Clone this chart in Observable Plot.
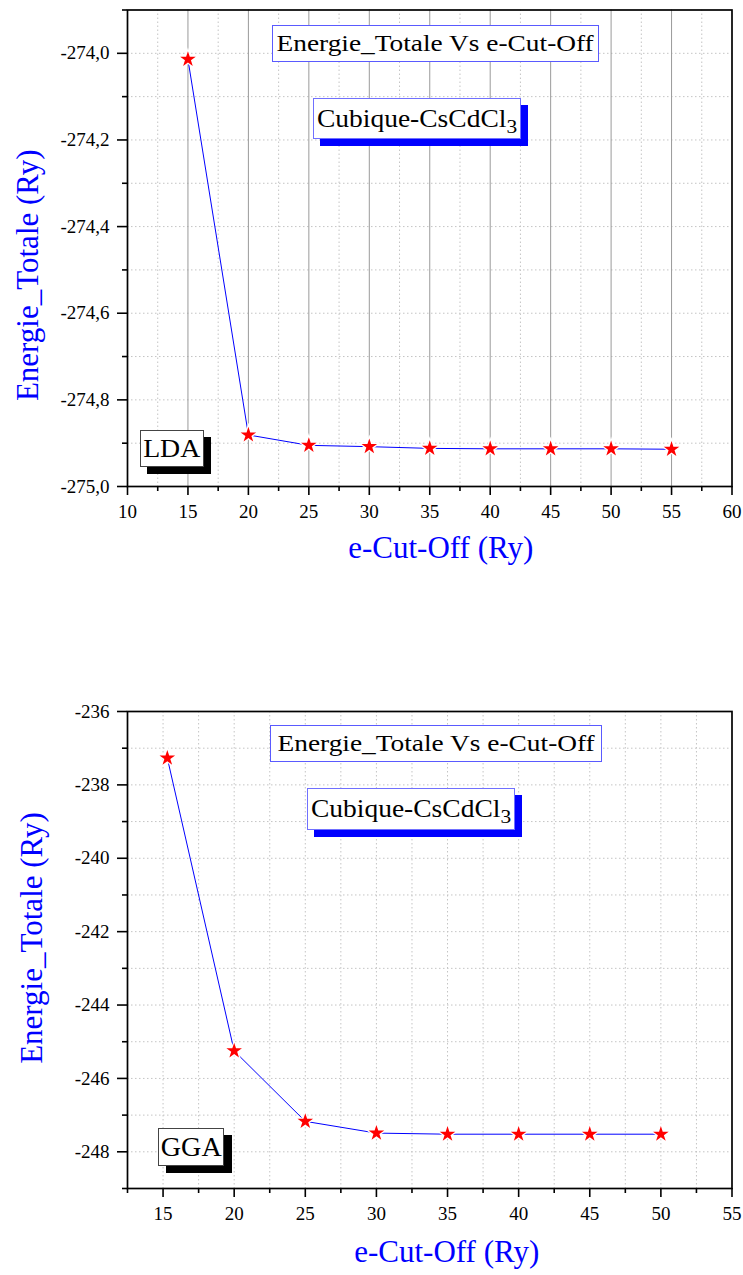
<!DOCTYPE html>
<html><head><meta charset="utf-8">
<script src="https://cdn.jsdelivr.net/npm/d3@7"></script>
<script src="https://cdn.jsdelivr.net/npm/@observablehq/plot@0.6"></script>
<style>
body{margin:0;background:#fff;}
#wrap{position:relative;width:743px;height:1275px;font-family:"Liberation Serif",serif;overflow:hidden;}
#wrap svg{display:block;}
.box{position:absolute;background:#fff;box-sizing:border-box;display:flex;align-items:center;justify-content:center;white-space:nowrap;color:#000;}
.box span{display:inline-block;}
.shadow{position:absolute;}
sub{font-size:0.78em;vertical-align:-0.32em;line-height:0;}
</style></head><body><div id="wrap"></div>
<script>
// ---- data ----
const cutoffLDA = [15, 20, 25, 30, 35, 40, 45, 50, 55];
const energyLDA = [-274.014, -274.881, -274.905, -274.908, -274.912, -274.913, -274.913, -274.913, -274.914];
const cutoffGGA = [15.3, 20, 25, 30, 35, 40, 45, 50];
const energyGGA = [-237.27, -245.25, -247.17, -247.49, -247.52, -247.52, -247.52, -247.52];

// ---- ticks ----
const ldaXTicks = [10, 15, 20, 25, 30, 35, 40, 45, 50, 55, 60];
const ldaXMinor = [12.5, 17.5, 22.5, 27.5, 32.5, 37.5, 42.5, 47.5, 52.5, 57.5];
const ldaXSolidGrid = [15, 20, 25, 30, 35, 40, 45, 50, 55];
const ldaYTicks = [-275.0, -274.8, -274.6, -274.4, -274.2, -274.0];
const ldaYMinor = [-274.9, -274.7, -274.5, -274.3, -274.1, -273.9];
const ldaYGrid = [-274.9, -274.8, -274.7, -274.6, -274.5, -274.4, -274.3, -274.2, -274.1, -274.0];

const ggaXTicks = [15, 20, 25, 30, 35, 40, 45, 50, 55];
const ggaXMinor = [12.5, 17.5, 22.5, 27.5, 32.5, 37.5, 42.5, 47.5, 52.5];
const ggaXGrid = [15, 17.5, 20, 22.5, 25, 27.5, 30, 32.5, 35, 37.5, 40, 42.5, 45, 47.5, 50, 52.5];
const ggaYTicks = [-248, -246, -244, -242, -240, -238, -236];
const ggaYMinor = [-249, -247, -245, -243, -241, -239, -237];
const ggaYGrid = [-248, -247, -246, -245, -244, -243, -242, -241, -240, -239, -238, -237];

// ---- texts ----
const xLabel = "e-Cut-Off (Ry)";
const yLabel = "Energie_Totale (Ry)";
const titleText = "Energie_Totale Vs e-Cut-Off";
const compoundText = "Cubique-CsCdCl";
const compoundSub = "3";
const methodTop = "LDA";
const methodBottom = "GGA";

const FONT = "Liberation Serif";
const dotted = {stroke: "#c4c4c4", strokeOpacity: 1, strokeDasharray: "1.5,2.5", strokeWidth: 1};

function makeChart(o) {
  const rows = o.xs.map((x, i) => ({x, y: o.ys[i]}));
  const marks = [
    Plot.gridX(o.xDotGrid, dotted),
    Plot.gridY(o.yGrid, dotted)
  ];
  if (o.xSolidGrid) marks.push(Plot.gridX(o.xSolidGrid, {stroke: "#9a9a9a", strokeOpacity: 1, strokeWidth: 1}));
  marks.push(
    Plot.line(rows, {x: "x", y: "y", stroke: "blue", strokeWidth: 1}),
    Plot.dot(rows, {x: "x", y: "y", symbol: "star", r: 4.9, fill: "red", stroke: "white", strokeWidth: 2.5, paintOrder: "stroke"}),
    Plot.axisX(o.xTicks, {tickSize: 9, tickPadding: 9, strokeWidth: 1.6, tickFormat: d => String(d), label: null}),
    Plot.axisX(o.xMinor, {tickSize: 5, strokeWidth: 1.6, tickFormat: () => "", label: null}),
    Plot.axisY(o.yTicks, {tickSize: 10, tickPadding: 8, strokeWidth: 1.6, tickFormat: o.yFmt, label: null}),
    Plot.axisY(o.yMinor, {tickSize: 5, strokeWidth: 1.6, tickFormat: () => "", label: null}),
    Plot.frame({stroke: "#000", strokeWidth: 1.7}),
    Plot.text([xLabel], {text: d => d, frameAnchor: "bottom", textAnchor: "middle", lineAnchor: "middle", dx: o.xlDx, dy: o.xlDy, fill: "blue", fontSize: 31, fontFamily: FONT}),
    Plot.text([yLabel], {text: d => d, frameAnchor: "left", textAnchor: "middle", lineAnchor: "middle", rotate: -90, dx: o.ylDx, dy: o.ylDy, fill: "blue", fontSize: 31, fontFamily: FONT})
  );
  return Plot.plot({
    width: 743, height: o.height,
    marginLeft: 127, marginRight: 11.5, marginTop: o.mt, marginBottom: o.mb,
    x: {domain: o.xDomain}, y: {domain: o.yDomain},
    style: {fontFamily: FONT, fontSize: "19px", color: "#000", background: "transparent", overflow: "visible"},
    marks
  });
}

const wrap = document.getElementById("wrap");

wrap.appendChild(makeChart({
  xs: cutoffLDA, ys: energyLDA, height: 600, mt: 9.5, mb: 114,
  xDomain: [10, 60], yDomain: [-275, -273.9],
  xTicks: ldaXTicks, xMinor: ldaXMinor, xDotGrid: ldaXMinor, xSolidGrid: ldaXSolidGrid,
  yTicks: ldaYTicks, yMinor: ldaYMinor, yGrid: ldaYGrid,
  yFmt: d => d.toFixed(1).replace(".", ","),
  xlDx: 11, xlDy: 62, ylDx: -99, ylDy: 27
}));

wrap.appendChild(makeChart({
  xs: cutoffGGA, ys: energyGGA, height: 675, mt: 111, mb: 87,
  xDomain: [12.5, 55], yDomain: [-249, -236],
  xTicks: ggaXTicks, xMinor: ggaXMinor, xDotGrid: ggaXGrid, xSolidGrid: null,
  yTicks: ggaYTicks, yMinor: ggaYMinor, yGrid: ggaYGrid,
  yFmt: d => String(d),
  xlDx: 17, xlDy: 64, ylDx: -95, ylDy: -12
}));

function box({left, top, w, h, border, shadow, off, size, sx, html}) {
  if (shadow) {
    const s = document.createElement("div");
    s.className = "shadow";
    Object.assign(s.style, {left: (left + off[0]) + "px", top: (top + off[1]) + "px", width: w + "px", height: h + "px", background: shadow});
    wrap.appendChild(s);
  }
  const b = document.createElement("div");
  b.className = "box";
  Object.assign(b.style, {left: left + "px", top: top + "px", width: w + "px", height: h + "px", border: "1px solid " + border, fontSize: size + "px"});
  const sp = document.createElement("span");
  sp.innerHTML = html;
  sp.style.transform = `scaleX(${sx})`;
  b.appendChild(sp);
  wrap.appendChild(b);
}

const compoundHTML = `${compoundText}<sub>${compoundSub}</sub>`;
box({left: 272, top: 25, w: 327, h: 37, border: "#5a5aff", size: 24, sx: 1.14, html: titleText});
box({left: 313, top: 98, w: 208, h: 41, border: "#7070ff", shadow: "#0000ff", off: [7, 7], size: 25, sx: 1.1, html: compoundHTML});
box({left: 140, top: 430, w: 64, h: 37, border: "#444", shadow: "#000", off: [7, 7], size: 26, sx: 1.07, html: methodTop});
box({left: 270, top: 725, w: 332, h: 37, border: "#5a5aff", size: 24, sx: 1.14, html: titleText});
box({left: 307, top: 788, w: 208, h: 42, border: "#7070ff", shadow: "#0000ff", off: [7, 7], size: 25, sx: 1.1, html: compoundHTML});
box({left: 158, top: 1128, w: 66, h: 38, border: "#444", shadow: "#000", off: [8, 7], size: 27, sx: 1.04, html: methodBottom});
</script></body></html>
